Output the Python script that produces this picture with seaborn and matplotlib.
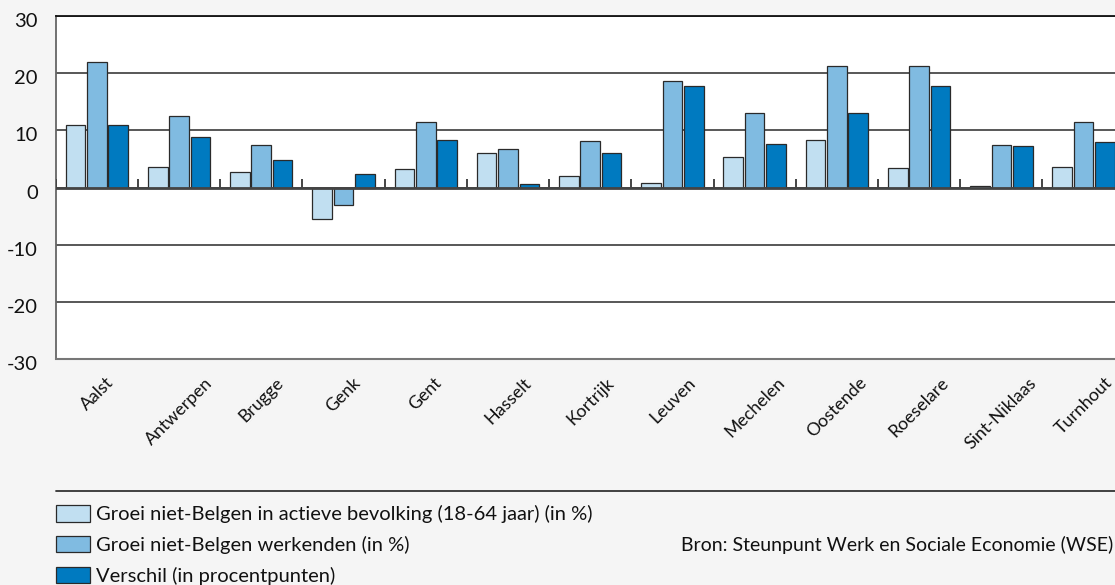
import numpy as np
import pandas as pd
import matplotlib
matplotlib.use("Agg")
import matplotlib.pyplot as plt
from matplotlib.lines import Line2D
from matplotlib.transforms import ScaledTranslation
import seaborn as sns

# ---------------- data ----------------
steden = ['Aalst', 'Antwerpen', 'Brugge', 'Genk', 'Gent', 'Hasselt', 'Kortrijk',
          'Leuven', 'Mechelen', 'Oostende', 'Roeselare', 'Sint-Niklaas', 'Turnhout']
groei_actieve = [10.9, 3.6, 2.7, -5.4, 3.2, 6.0, 2.0, 0.9, 5.4, 8.4, 3.4, 0.3, 3.6]
groei_werkenden = [22.0, 12.5, 7.5, -3.0, 11.5, 6.7, 8.2, 18.7, 13.1, 21.3, 21.2, 7.5, 11.5]
verschil = [11.0, 8.9, 4.8, 2.4, 8.3, 0.7, 6.1, 17.7, 7.7, 13.1, 17.7, 7.3, 8.0]
reeksen = ['Groei niet-Belgen in actieve bevolking (18-64 jaar) (in %)',
           'Groei niet-Belgen werkenden (in %)',
           'Verschil (in procentpunten)']
y_ticks = [-30, -20, -10, 0, 10, 20, 30]
bron = 'Bron: Steunpunt Werk en Sociale Economie (WSE)'

kleuren = ['#c1dff1', '#80bbe1', '#007ac0']

df = pd.DataFrame({
    'stad': steden * 3,
    'waarde': groei_actieve + groei_werkenden + verschil,
    'reeks': [reeksen[0]] * len(steden) + [reeksen[1]] * len(steden) + [reeksen[2]] * len(steden),
})

# ---------------- style ----------------
sns.set_style('white')
plt.rcParams['font.family'] = ['Lato', 'DejaVu Sans']
plt.rcParams['axes.unicode_minus'] = False
FS = 14.5
FS_X = 12.8
BG = '#f5f5f5'

W, H = 1115, 585
fig = plt.figure(figsize=(W / 100, H / 100), dpi=100, facecolor=BG)
ax_left, ax_top, ax_bottom = 55.7, 16.0, 359.3
ax_width = 1069.0
ax = fig.add_axes([ax_left / W, 1 - ax_bottom / H, ax_width / W, (ax_bottom - ax_top) / H])
ax.set_facecolor('white')

sns.barplot(data=df, x='stad', y='waarde', hue='reeks', hue_order=reeksen,
            palette=kleuren, saturation=1, width=0.78, gap=0.08, errorbar=None,
            edgecolor='#2a2a2a', linewidth=0.9, ax=ax, zorder=2)

ax.set_xlim(-0.5, len(steden) - 0.5)
ax.set_ylim(y_ticks[0], y_ticks[-1])
ax.set_yticks(y_ticks)
ax.set_yticklabels([str(t) for t in y_ticks], fontsize=FS, color='#111')
ax.tick_params(axis='y', length=0, pad=13)
for lab in ax.get_yticklabels():
    lab.set_transform(lab.get_transform() + ScaledTranslation(0, -4 / 100, fig.dpi_scale_trans))

ax.set_xticks(range(len(steden)))
ax.set_xticklabels(steden, rotation=45, ha='center', va='top',
                   fontsize=FS_X, color='#111')
ax.tick_params(axis='x', length=0, pad=11)

ax.set_xlabel('')
ax.set_ylabel('')

# grid
ax.set_axisbelow(True)
ax.yaxis.grid(True, color='#2a2a2a', linewidth=1.1)
ax.xaxis.grid(False)

# zero line and group separators
ax.axhline(0, color='#444444', linewidth=2.0, zorder=3)
sep = np.arange(len(steden)) - 0.5
ax.vlines(sep, 0, 1.5, color='#444444', linewidth=1.4, zorder=3)

for s, c, lw in [('top', '#111111', 1.3), ('left', '#666666', 1.3),
                 ('bottom', '#777777', 1.5), ('right', '#777777', 1.3)]:
    ax.spines[s].set_color(c)
    ax.spines[s].set_linewidth(lw)

# legend below
handles, labels = ax.get_legend_handles_labels()
if ax.get_legend() is not None:
    ax.get_legend().remove()
fs_px = FS * 100 / 72
fig.legend(handles, labels, loc='upper left',
           bbox_to_anchor=(ax_left / W, 1 - 505 / H),
           frameon=False, fontsize=FS, handlelength=34 / fs_px, handleheight=18 / fs_px,
           handletextpad=0.33, labelspacing=0.62, borderpad=0, borderaxespad=0,
           labelcolor='#111')

fig.add_artist(Line2D([ax_left / W, 1.0], [1 - 491 / H] * 2, transform=fig.transFigure,
                      color='#333333', linewidth=1.3))

fig.text(1 - 2 / W, 1 - 545 / H, bron, ha='right', va='center', fontsize=FS - 0.5, color='#111')

fig.savefig('out.png', dpi=100, facecolor=BG)
